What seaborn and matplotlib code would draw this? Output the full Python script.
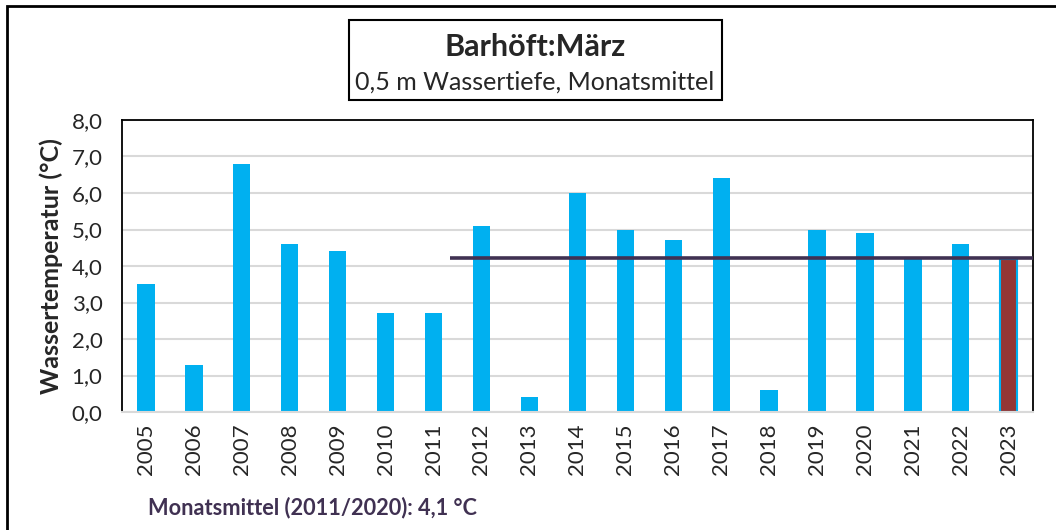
import numpy as np
import pandas as pd
import matplotlib
matplotlib.use("Agg")
import matplotlib.pyplot as plt
import seaborn as sns
from matplotlib.patches import Rectangle
from matplotlib.ticker import FuncFormatter, MultipleLocator

years = [str(y) for y in range(2005, 2024)]
temps = [3.5, 1.3, 6.8, 4.6, 4.4, 2.7, 2.7, 5.1, 0.4, 6.0,
         5.0, 4.7, 6.4, 0.6, 5.0, 4.9, 4.2, 4.6, 4.2]
mean_val = 4.22
mean_label = "Monatsmittel (2011/2020): 4,1 °C"

blue = "#00B0F0"
brown = "#943634"
purple = "#403152"

sns.set_theme(style="white")
plt.rcParams["font.family"] = ["Lato", "DejaVu Sans"]

df = pd.DataFrame({"Jahr": years, "Temp": temps})
colors = [blue] * (len(years) - 1) + [brown]

fig = plt.figure(figsize=(10.56, 5.30), dpi=100)
ax = fig.add_axes([0.1155, 0.2226, 0.978 - 0.1155, 0.7736 - 0.2226])

sns.barplot(data=df, x="Jahr", y="Temp", hue="Jahr", palette=colors,
            legend=False, width=0.36, ax=ax, saturation=1)
for p, c in zip(ax.patches, colors):
    p.set_edgecolor(blue)
    p.set_linewidth(1.5 if c == brown else 0)

start = years.index("2011") + 0.35
ax.hlines(mean_val, start, len(years) - 0.5, color=purple, lw=2.6, zorder=4)

ax.set_xlim(-0.5, len(years) - 0.5)
ax.set_ylim(0, 8)
ax.yaxis.set_major_locator(MultipleLocator(1))
ax.yaxis.set_major_formatter(FuncFormatter(lambda v, _: f"{v:.1f}".replace(".", ",")))
ax.grid(axis="y", color="#D9D9D9", lw=1.5)
ax.set_axisbelow(True)
for s in ["left", "top", "right"]:
    ax.spines[s].set_color("black")
    ax.spines[s].set_linewidth(1.3)
ax.spines["bottom"].set_color("#D9D9D9")
ax.spines["bottom"].set_linewidth(1.5)

ax.tick_params(axis="x", labelrotation=90, labelsize=16, length=0, pad=8)
ax.tick_params(axis="y", labelsize=16, length=0, pad=14)
ax.set_xlabel("")
ax.set_ylabel("Wassertemperatur (°C)", fontsize=18, fontweight="bold", labelpad=6)

# title box
fig.patches.append(Rectangle((349 / 1056, 1 - 100 / 530), (722 - 349) / 1056, 80 / 530,
                             transform=fig.transFigure, fill=False, ec="black", lw=1.5))
fig.text(535 / 1056, 1 - 47 / 530, "Barhöft:März", ha="center", va="center",
         fontsize=22, fontweight="bold")
fig.text(535 / 1056, 1 - 82 / 530, "0,5 m Wassertiefe, Monatsmittel", ha="center",
         va="center", fontsize=18)

fig.text(148 / 1056, 1 - 508 / 530, mean_label, ha="left", va="center",
         fontsize=15.7, fontweight="bold", color=purple)

# outer frame
fig.patches.append(Rectangle((7 / 1056, -0.05), 1.2, 1 - 6 / 530 + 0.05,
                             transform=fig.transFigure, fill=False, ec="black", lw=2))

fig.savefig("out.png", dpi=100)
